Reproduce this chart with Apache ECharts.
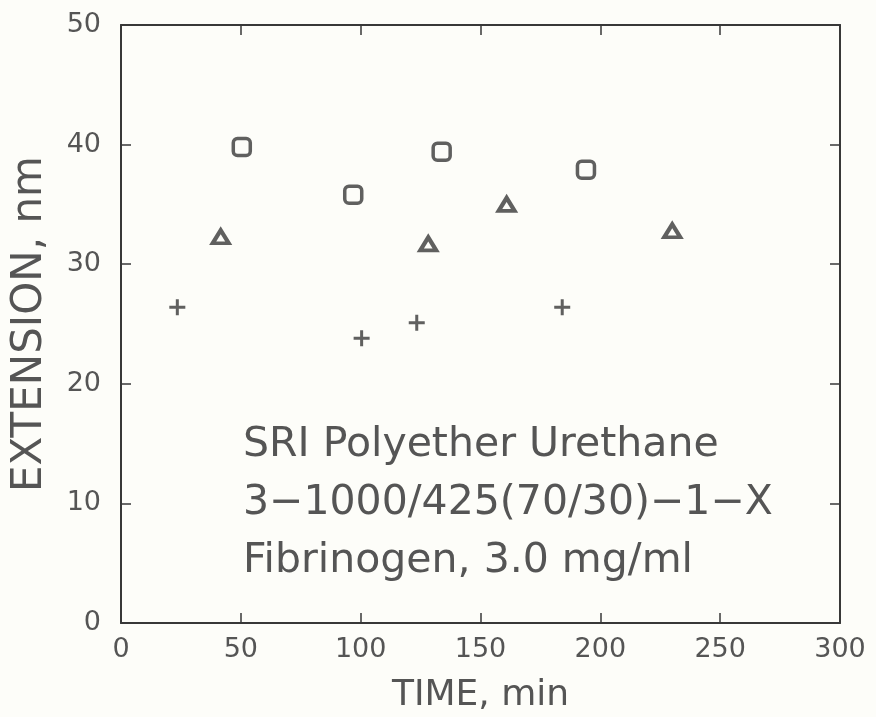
<!DOCTYPE html>
<html><head><meta charset="utf-8">
<script src="https://cdn.jsdelivr.net/npm/echarts@6/dist/echarts.min.js"></script>
<style>html,body{margin:0;padding:0;background:#fdfdf9}#c{width:876px;height:717px}</style>
</head><body><div id="c"></div>
<script>
var xTicks = [0, 50, 100, 150, 200, 250, 300];
var yTicks = [0, 10, 20, 30, 40, 50];
var squareX = [50.4, 96.9, 133.8, 194];
var squareY = [39.8, 35.8, 39.4, 37.9];
var triX = [41.6, 128.2, 160.9, 230];
var triY = [32.3, 31.7, 35.0, 32.8];
var plusX = [23.5, 100.4, 123.4, 184.1];
var plusY = [26.4, 23.8, 25.1, 26.4];
var labelLines = ['SRI Polyether Urethane', '3\u22121000/425(70/30)\u22121\u2212X', 'Fibrinogen, 3.0 mg/ml'];

function pairs(xs, ys){ return xs.map(function(x,i){return [x, ys[i]];}); }
var ink = '#383838';
var txt = '#555555';
var font = 'DejaVu Sans';
var chart = echarts.init(document.getElementById('c'));
function axisCommon(){ return {
  axisLine:{show:true, onZero:false, lineStyle:{color:ink, width:2}},
  axisTick:{show:true, inside:true, length:10, lineStyle:{color:ink, width:1.5}},
  splitLine:{show:false}
};}
chart.setOption({
  backgroundColor:'#fdfdf9',
  animation:false,
  grid:{left:121, right:36, top:25, bottom:94, containLabel:false, outerBoundsMode:'none'},
  xAxis:[
    Object.assign({type:'value', min:0, max:300, interval:50, position:'bottom',
      axisLabel:{color:txt, fontFamily:font, fontSize:27, margin:13},
      name:'TIME, min', nameLocation:'middle', nameGap:55,
      nameTextStyle:{color:txt, fontFamily:font, fontSize:36}}, axisCommon()),
    Object.assign({type:'value', min:0, max:300, interval:50, position:'top',
      axisLabel:{show:false}}, axisCommon())
  ],
  yAxis:[
    Object.assign({type:'value', min:0, max:50, interval:10, position:'left',
      axisLabel:{color:txt, fontFamily:font, fontSize:27, margin:20},
      name:'EXTENSION, nm', nameLocation:'middle', nameGap:70,
      nameTextStyle:{color:txt, fontFamily:font, fontSize:42}}, axisCommon()),
    Object.assign({type:'value', min:0, max:50, interval:10, position:'right',
      axisLabel:{show:false}}, axisCommon())
  ],
  series:[
    {type:'scatter', data:pairs(squareX, squareY), symbol:'roundRect', symbolSize:17,
      itemStyle:{color:'transparent', borderColor:ink, borderWidth:3.5}},
    {type:'scatter', data:pairs(triX, triY), symbol:'triangle', symbolSize:[16,13],
      itemStyle:{color:'transparent', borderColor:ink, borderWidth:4}},
    {type:'scatter', data:pairs(plusX, plusY),
      symbol:'path://M-1.5,-8L1.5,-8L1.5,-1.5L8,-1.5L8,1.5L1.5,1.5L1.5,8L-1.5,8L-1.5,1.5L-8,1.5L-8,-1.5L-1.5,-1.5Z', symbolSize:16,
      itemStyle:{color:ink}}
  ],
  graphic: labelLines.map(function(t,i){
    return {type:'text', left:243, top:425 + i*58,
      style:{text:t, fill:txt, font:'normal 41px "DejaVu Sans"'}};
  })
});
</script></body></html>
